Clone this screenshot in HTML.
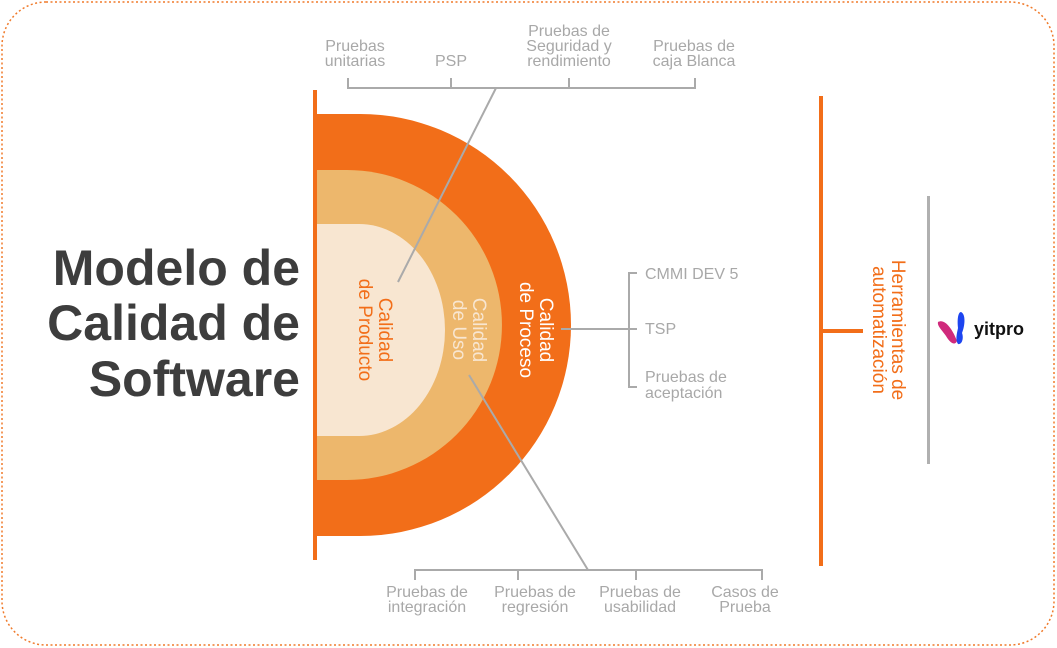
<!DOCTYPE html>
<html><head><meta charset="utf-8"><style>
html,body{margin:0;padding:0;background:#fff}
svg{display:block}
text{font-family:"Liberation Sans",sans-serif}
</style></head><body>
<svg width="1057" height="648" viewBox="0 0 1057 648">
<rect x="2" y="2" width="1052" height="643" rx="44" fill="#fff" stroke="#f07a2a" stroke-width="1.5" stroke-dasharray="2,2.5"/>
<g font-weight="bold" font-size="50" fill="#3d3d3d" text-anchor="end">
<text x="300" y="285">Modelo de</text>
<text x="300" y="340">Calidad de</text>
<text x="300" y="396">Software</text>
</g>
<path d="M316,114 H360 A211,211 0 0 1 360,536 H316 Z" fill="#f26e19"/>
<path d="M316,170 H347 A155,155 0 0 1 347,480 H316 Z" fill="#edb76c"/>
<path d="M316,224 H359 A86,106 0 0 1 359,436 H316 Z" fill="#f8e6d1"/>
<rect x="313" y="90" width="4" height="470" fill="#f26e19"/>
<g stroke="#aaa" stroke-width="2" fill="none">
<path d="M348,78 V88 H695 V78 M451,78 V88 M569,78 V88"/>
<path d="M496,88 L398,282"/>
<path d="M415,580 V570 H762 V580 M518,580 V570 M636,580 V570"/>
<path d="M588,570 L469,375"/>
<path d="M637,273 H629 V387 H637 M629,329 H637 M561,329 H629"/>
</g>
<g font-size="16" fill="#a8a8a8" text-anchor="middle">
<text x="355" y="51">Pruebas</text><text x="355" y="66">unitarias</text>
<text x="451" y="66">PSP</text>
<text x="569" y="36">Pruebas de</text><text x="569" y="51">Seguridad y</text><text x="569" y="66">rendimiento</text>
<text x="694" y="51">Pruebas de</text><text x="694" y="66">caja Blanca</text>
<text x="427" y="597">Pruebas de</text><text x="427" y="612">integración</text>
<text x="535" y="597">Pruebas de</text><text x="535" y="612">regresión</text>
<text x="640" y="597">Pruebas de</text><text x="640" y="612">usabilidad</text>
<text x="745" y="597">Casos de</text><text x="745" y="612">Prueba</text>
</g>
<g font-size="16" fill="#a8a8a8">
<text x="645" y="279">CMMI DEV 5</text>
<text x="645" y="334">TSP</text>
<text x="645" y="382">Pruebas de</text><text x="645" y="398">aceptación</text>
</g>
<g font-size="19" text-anchor="middle">
<g transform="translate(537,330) rotate(90)" fill="#fff"><text x="0" y="-3">Calidad</text><text x="0" y="17">de Proceso</text></g>
<g transform="translate(470,330) rotate(90)" fill="#f8e6d1"><text x="0" y="-3">Calidad</text><text x="0" y="17">de Uso</text></g>
<g transform="translate(376,330) rotate(90)" fill="#f26e19"><text x="0" y="-3">Calidad</text><text x="0" y="17">de Producto</text></g>
<g transform="translate(889,330) rotate(90)" fill="#f26e19"><text x="0" y="-3">Herramientas de</text><text x="0" y="16">automatización</text></g>
</g>
<rect x="819" y="96" width="4" height="470" fill="#f26e19"/>
<rect x="821" y="329" width="42" height="4" fill="#f26e19"/>
<rect x="927" y="196" width="3" height="268" fill="#b0b0b0"/>
<path d="M938,322 C945,318 953,330 957,341 C955,346 950,343 946,336 C942,330 937,326 938,322 Z" fill="#d02a7c"/>
<path d="M961,312 C966,314 965,326 962,333 C964,338 962,345 958,344 C955,340 957,333 958,328 C957,320 958,312 961,312 Z" fill="#1d45f0"/>
<text x="974" y="335" font-size="18" font-weight="bold" fill="#111">yitpro</text>
</svg>
</body></html>
